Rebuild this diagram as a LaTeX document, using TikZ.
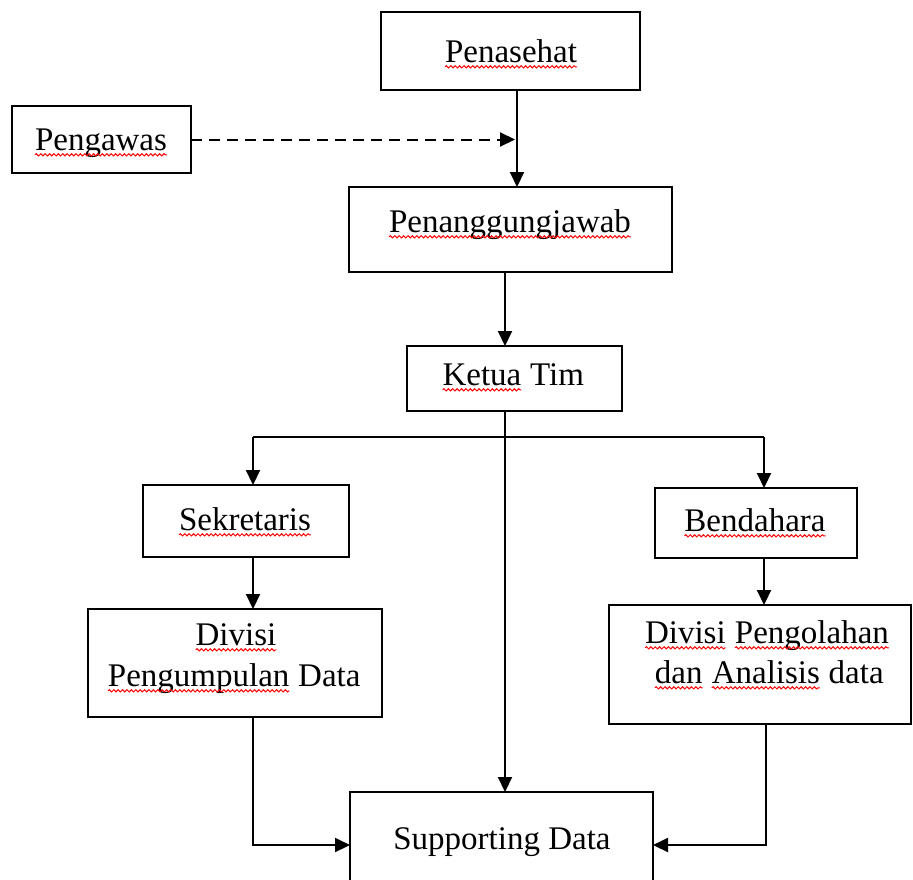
\documentclass[tikz,border=0pt]{standalone}
\usepackage{fontspec}
\setmainfont{Liberation Serif}
\usetikzlibrary{arrows.meta,decorations.pathmorphing}

% spell-check style red wavy underline under a word
\newcommand\wavy[1]{\tikz[baseline=(wv.base)]{%
  \node[inner sep=0pt,outer sep=0pt] (wv) {#1};%
  \draw[red,line width=0.5pt,decorate,
        decoration={snake,amplitude=0.55pt,segment length=2.2pt}]
    ([yshift=-2.4pt]wv.base west) -- ([yshift=-2.4pt]wv.base east);}}

\begin{document}
\begin{tikzpicture}[x=0.5pt,y=-0.5pt,line width=1pt,
  box/.style 2 args={draw,line width=1pt,inner sep=0pt,outer sep=0pt,
    minimum width=#1*0.5pt,minimum height=#2*0.5pt},
  lbl/.style={font=\fontsize{16.5}{20}\selectfont,inner sep=0pt,anchor=base},
  arr/.style={-{Triangle[length=7.5pt,width=7pt]}}]
\useasboundingbox (0,0) rectangle (913,879);
\clip (0,0) rectangle (913,879);

% boxes
\node[box={259}{78}]  (pen) at (510.5,51)   {};
\node[box={179}{67}]  (pw)  at (101.5,139.5) {};
\node[box={323}{85}]  (pj)  at (510.5,229.5) {};
\node[box={215}{65}]  (kt)  at (514.5,378.5) {};
\node[box={206}{72}]  (sk)  at (246,521)    {};
\node[box={202}{70}]  (bd)  at (756,523)    {};
\node[box={294}{108}] (dp1) at (235,663)    {};
\node[box={302}{119}] (dp2) at (760,664.5)  {};
\node[box={303}{140}] (sd)  at (501.5,862)  {};

% labels
\node[lbl] (tpen) at (511,62)  {\wavy{Penasehat}};
\node[lbl] (tpw)  at (101,150) {\wavy{Pengawas}};
\node[lbl] (tpj)  at (510,232) {\wavy{Penanggungjawab}};
\node[lbl] (tkt)  at (513,385) {\wavy{Ketua} Tim};
\node[lbl] (tsk)  at (245,530) {\wavy{Sekretaris}};
\node[lbl] (tbd)  at (755,531) {\wavy{Bendahara}};
\node[lbl] (tdp1a) at (236,645) {\wavy{Divisi}};
\node[lbl] (tdp1b) at (234,686) {\wavy{Pengumpulan} Data};
\node[lbl] (tdp2a) at (767,643) {\wavy{Divisi} \wavy{Pengolahan}};
\node[lbl] (tdp2b) at (769,683) {\wavy{dan} \wavy{Analisis} data};
\node[lbl] (tsd)  at (502,849) {Supporting Data};

% guide coordinates for the connector columns and rows
\coordinate (c1) at (517,0);
\coordinate (c2) at (505,0);
\coordinate (bl) at (253,437);
\coordinate (br) at (764,437);
\coordinate (jl) at (253,845);
\coordinate (jr) at (766,845);

% connectors
\draw[arr] (pen.south -| c1) -- (pj.north -| c1);
\draw[arr,dash pattern=on 5.5pt off 3.5pt,shorten >=1pt] (pw.east) -- (pw.east -| c1);
\draw[arr] (pj.south -| c2) -- (kt.north -| c2);
\draw[arr] (kt.south -| c2) -- (sd.north -| c2);
\draw (bl) -- (br);
\draw[arr] (bl) -- (sk.north -| bl);
\draw[arr] (br) -- (bd.north -| br);
\draw[arr] (sk.south -| bl) -- (dp1.north -| bl);
\draw[arr] (bd.south -| br) -- (dp2.north -| br);
\draw[arr] (dp1.south -| jl) -- (jl) -- (sd.west |- jl);
\draw[arr] (dp2.south -| jr) -- (jr) -- (sd.east |- jr);
\end{tikzpicture}
\end{document}
